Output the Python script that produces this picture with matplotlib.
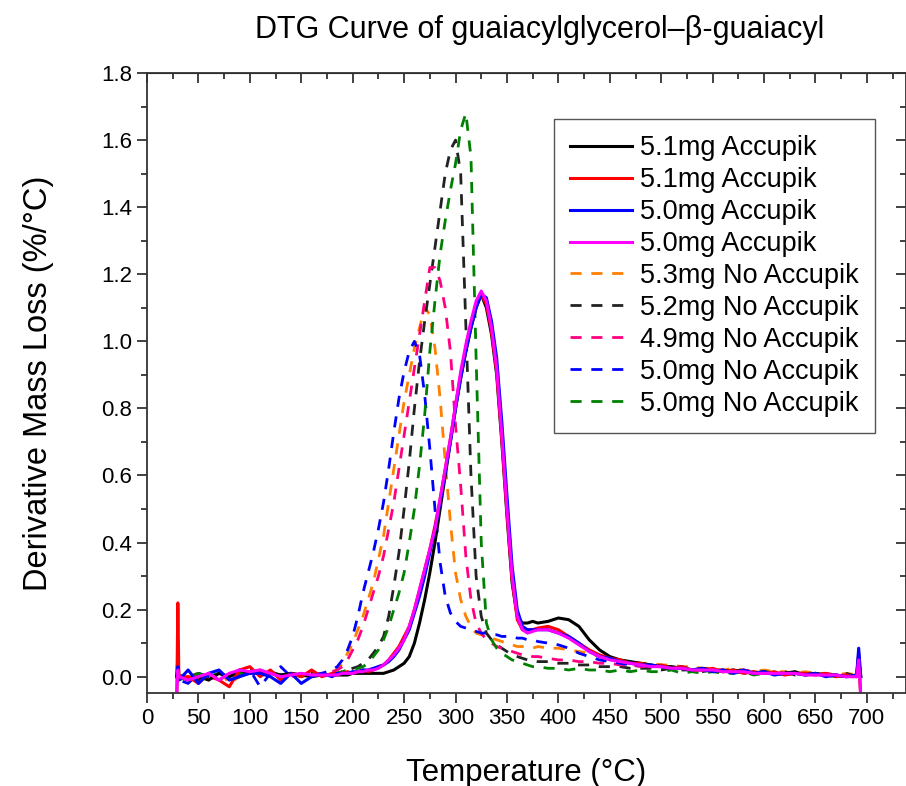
import numpy as np
import matplotlib
matplotlib.use("Agg")
import matplotlib.pyplot as plt
from matplotlib.ticker import MultipleLocator

plt.rcParams['font.family'] = ['Liberation Sans', 'DejaVu Sans']

# temperature grid (deg C) shared by all runs
temp = ([29, 30, 31] + list(range(40, 181, 10)) + list(range(185, 381, 5))
        + list(range(390, 691, 10)) + [692, 694])

# derivative mass loss (%/degC)
acc_51_a = [0.0, 0.06, 0.0,
            -0.01, 0.0, -0.01, 0.01, 0.0, 0.02, 0.01, 0.015, 0.01, 0.005, 0.01, 0.005, 0.0, 0.005, 0.005,
            0.005, 0.005, 0.005, 0.01, 0.01, 0.01, 0.01, 0.01, 0.01, 0.01,
            0.015, 0.02, 0.03, 0.04, 0.06, 0.1, 0.16, 0.23, 0.31, 0.4,
            0.5, 0.6, 0.7, 0.8, 0.89, 0.97, 1.04, 1.1, 1.14, 1.1,
            1.02, 0.9, 0.7, 0.48, 0.28, 0.18, 0.16, 0.16, 0.165, 0.16,
            0.165, 0.175, 0.17, 0.15, 0.11, 0.08, 0.06, 0.05, 0.045, 0.04,
            0.035, 0.03, 0.03, 0.025, 0.02, 0.025, 0.02, 0.015, 0.02, 0.015,
            0.01, 0.015, 0.01, 0.01, 0.015, 0.005, 0.01, 0.005, 0.005, 0.0, 0.005,
            0.06, 0.0]
acc_51_b = [-0.05, 0.22, 0.0,
            0.0, -0.02, 0.01, -0.01, -0.03, 0.02, 0.03, 0.0, 0.02, -0.01, 0.01, 0.0, 0.02, 0.0, 0.01,
            0.01, 0.01, 0.015, 0.01, 0.015, 0.02, 0.015, 0.02, 0.03, 0.035,
            0.05, 0.07, 0.09, 0.12, 0.15, 0.2, 0.26, 0.32, 0.38, 0.45,
            0.53, 0.62, 0.71, 0.81, 0.9, 0.98, 1.05, 1.11, 1.14, 1.11,
            1.03, 0.91, 0.71, 0.49, 0.29, 0.17, 0.14, 0.14, 0.14, 0.145,
            0.15, 0.14, 0.12, 0.1, 0.08, 0.065, 0.055, 0.05, 0.04, 0.04,
            0.03, 0.035, 0.025, 0.03, 0.02, 0.02, 0.025, 0.015, 0.02, 0.01,
            0.015, 0.01, 0.015, 0.005, 0.01, 0.01, 0.005, 0.01, 0.0, 0.005, 0.0,
            0.07, -0.06]
acc_50_a = [0.0, 0.03, -0.01,
            0.02, -0.02, 0.01, 0.02, -0.01, 0.0, 0.01, 0.01, 0.0, -0.02, 0.01, -0.02, 0.0, 0.01, 0.0,
            0.01, 0.01, 0.01, 0.015, 0.015, 0.02, 0.02, 0.025, 0.03, 0.035,
            0.045, 0.06, 0.08, 0.11, 0.14, 0.19, 0.24, 0.3, 0.37, 0.44,
            0.52, 0.61, 0.7, 0.8, 0.89, 0.97, 1.04, 1.1, 1.14, 1.13,
            1.06, 0.95, 0.76, 0.54, 0.33, 0.2, 0.15, 0.14, 0.14, 0.14,
            0.14, 0.13, 0.12, 0.1, 0.075, 0.06, 0.055, 0.045, 0.04, 0.035,
            0.035, 0.03, 0.025, 0.025, 0.02, 0.025, 0.015, 0.02, 0.01, 0.02,
            0.01, 0.015, 0.005, 0.01, 0.01, 0.005, 0.01, 0.0, 0.005, 0.0, 0.005,
            0.085, 0.0]
acc_50_b = [-0.05, 0.02, 0.0,
            -0.01, 0.0, 0.01, -0.01, 0.01, 0.02, 0.015, 0.02, 0.01, 0.0, 0.005, 0.01, 0.005, 0.005, 0.005,
            0.005, 0.01, 0.01, 0.01, 0.015, 0.015, 0.02, 0.02, 0.025, 0.035,
            0.05, 0.065, 0.085, 0.11, 0.15, 0.2, 0.26, 0.32, 0.38, 0.44,
            0.53, 0.62, 0.71, 0.81, 0.91, 0.99, 1.06, 1.12, 1.15, 1.12,
            1.04, 0.92, 0.72, 0.5, 0.3, 0.18, 0.14, 0.13, 0.135, 0.14,
            0.14, 0.13, 0.115, 0.095, 0.075, 0.06, 0.05, 0.045, 0.04, 0.035,
            0.03, 0.03, 0.025, 0.025, 0.02, 0.02, 0.02, 0.015, 0.015, 0.015,
            0.01, 0.01, 0.01, 0.01, 0.01, 0.005, 0.005, 0.005, 0.005, 0.0, 0.0,
            0.05, -0.06]
no_53 = [0.0, 0.02, 0.0,
         0.0, 0.01, -0.01, 0.02, -0.02, 0.0, 0.015, 0.02, 0.01, 0.0, 0.01, 0.0, 0.005, 0.01, 0.015,
         0.02, 0.04, 0.07, 0.1, 0.14, 0.18, 0.23, 0.28, 0.35, 0.42,
         0.52, 0.62, 0.72, 0.82, 0.9, 0.98, 1.04, 1.1, 1.08, 0.98,
         0.83, 0.64, 0.46, 0.31, 0.23, 0.18, 0.15, 0.13, 0.125, 0.12,
         0.115, 0.11, 0.105, 0.1, 0.095, 0.09, 0.09, 0.09, 0.085, 0.09,
         0.085, 0.085, 0.08, 0.075, 0.07, 0.06, 0.055, 0.05, 0.045, 0.04,
         0.04, 0.035, 0.035, 0.03, 0.03, 0.025, 0.025, 0.02, 0.025, 0.02,
         0.015, 0.02, 0.015, 0.015, 0.01, 0.015, 0.01, 0.01, 0.005, 0.01, 0.005,
         0.04, -0.06]
no_52 = [0.0, 0.01, 0.0,
         0.01, -0.01, 0.0, 0.01, 0.0, 0.01, 0.02, 0.01, 0.015, 0.005, 0.01, 0.005, 0.01, 0.005, 0.01,
         0.01, 0.015, 0.02, 0.025, 0.03, 0.04, 0.05, 0.07, 0.09, 0.12,
         0.18, 0.27, 0.37, 0.5, 0.64, 0.8, 0.94, 1.06, 1.17, 1.28,
         1.39, 1.5, 1.57, 1.6, 1.5, 1.05, 0.6, 0.3, 0.18, 0.13,
         0.11, 0.095, 0.085, 0.075, 0.065, 0.06, 0.055, 0.05, 0.05, 0.045,
         0.045, 0.04, 0.04, 0.035, 0.035, 0.03, 0.03, 0.03, 0.025, 0.025,
         0.025, 0.02, 0.025, 0.02, 0.02, 0.015, 0.02, 0.015, 0.015, 0.01,
         0.015, 0.01, 0.01, 0.015, 0.005, 0.01, 0.01, 0.005, 0.005, 0.01, 0.0,
         0.03, 0.0]
no_49 = [0.0, 0.01, 0.0,
         0.0, 0.01, 0.0, -0.01, 0.01, 0.015, 0.01, 0.02, 0.01, 0.005, 0.0, 0.01, 0.005, 0.01, 0.015,
         0.02, 0.03, 0.05, 0.08, 0.11, 0.15, 0.2, 0.25, 0.3, 0.36,
         0.44, 0.52, 0.62, 0.72, 0.82, 0.92, 1.02, 1.12, 1.22, 1.22,
         1.18, 1.1, 0.97, 0.75, 0.57, 0.36, 0.23, 0.16, 0.13, 0.11,
         0.1, 0.09, 0.085, 0.08, 0.075, 0.07, 0.065, 0.065, 0.06, 0.06,
         0.055, 0.05, 0.05, 0.045, 0.045, 0.04, 0.04, 0.035, 0.035, 0.03,
         0.03, 0.03, 0.025, 0.025, 0.025, 0.02, 0.02, 0.02, 0.015, 0.02,
         0.015, 0.01, 0.015, 0.01, 0.01, 0.01, 0.005, 0.01, 0.005, 0.005, 0.0,
         0.03, 0.0]
no_50_a = [0.0, 0.02, -0.01,
           -0.02, 0.01, 0.0, -0.01, 0.01, 0.0, 0.02, -0.03, 0.01, 0.03, 0.0, 0.01, 0.0, 0.01, 0.02,
           0.03, 0.05, 0.08, 0.12, 0.18, 0.25, 0.31, 0.37, 0.44, 0.52,
           0.62, 0.73, 0.83, 0.91, 0.97, 1.0, 0.96, 0.84, 0.68, 0.5,
           0.34, 0.24, 0.19, 0.165, 0.15, 0.145, 0.14, 0.135, 0.13, 0.13,
           0.125, 0.125, 0.12, 0.12, 0.12, 0.115, 0.115, 0.11, 0.11, 0.105,
           0.1, 0.095, 0.085, 0.07, 0.06, 0.05, 0.045, 0.04, 0.035, 0.035,
           0.03, 0.03, 0.025, 0.03, 0.02, 0.02, 0.015, 0.02, 0.01, 0.015,
           0.01, 0.015, 0.005, 0.01, 0.005, 0.01, 0.005, 0.005, 0.0, 0.005, 0.0,
           0.04, 0.0]
no_50_b = [0.0, 0.0, -0.01,
           0.0, 0.01, 0.0, 0.01, 0.0, 0.01, 0.02, 0.01, 0.01, 0.005, 0.01, 0.0, 0.01, 0.005, 0.01,
           0.01, 0.015, 0.02, 0.02, 0.025, 0.03, 0.04, 0.06, 0.08, 0.11,
           0.15, 0.2, 0.25, 0.31, 0.4, 0.5, 0.63, 0.78, 0.97, 1.12,
           1.26, 1.36, 1.45, 1.53, 1.63, 1.68, 1.55, 0.95, 0.4, 0.16,
           0.11, 0.085, 0.07, 0.06, 0.05, 0.045, 0.04, 0.035, 0.03, 0.03,
           0.025, 0.025, 0.02, 0.025, 0.02, 0.02, 0.015, 0.02, 0.015, 0.02,
           0.015, 0.015, 0.02, 0.01, 0.015, 0.01, 0.015, 0.01, 0.01, 0.015,
           0.005, 0.01, 0.01, 0.005, 0.01, 0.005, 0.01, 0.005, 0.0, 0.005, 0.0,
           0.05, 0.0]

labels = ['5.1mg Accupik', '5.1mg Accupik', '5.0mg Accupik', '5.0mg Accupik',
          '5.3mg No Accupik', '5.2mg No Accupik', '4.9mg No Accupik',
          '5.0mg No Accupik', '5.0mg No Accupik']
series = [acc_51_a, acc_51_b, acc_50_a, acc_50_b,
          no_53, no_52, no_49, no_50_a, no_50_b]
colors = ['#000000', '#FF0000', '#0000FF', '#FF00FF',
          '#FF8000', '#222222', '#FF0080', '#0000FF', '#008000']
styles = ['-', '-', '-', '-', '--', '--', '--', '--', '--']

fig = plt.figure(figsize=(9.06, 7.86), dpi=100)
ax = fig.add_axes([147 / 906, 93 / 786, 759 / 906, 620 / 786])

# dashed runs first, solid runs on top
order = [4, 5, 6, 7, 8, 0, 1, 2, 3]
handles = {}
for i in order:
    if styles[i] == '--':
        ln, = ax.plot(temp, series[i], color=colors[i], lw=2.0, dashes=(4, 3.5))
    else:
        ln, = ax.plot(temp, series[i], color=colors[i], lw=2.2)
    handles[i] = ln

ax.set_xlim(0, 738)
ax.set_ylim(-0.0486, 1.8)
ax.xaxis.set_major_locator(MultipleLocator(50))
ax.xaxis.set_minor_locator(MultipleLocator(25))
ax.yaxis.set_major_locator(MultipleLocator(0.2))
ax.yaxis.set_minor_locator(MultipleLocator(0.1))
ax.yaxis.set_major_formatter(matplotlib.ticker.FormatStrFormatter('%.1f'))
ax.tick_params(which='both', direction='out', width=1.3, color='#333333', labelsize=16)
ax.tick_params(which='major', length=7)
ax.tick_params(which='minor', length=4)
for sp in ax.spines.values():
    sp.set_linewidth(1.3)
    sp.set_color('#333333')

# top and right axes carry inward ticks
top = ax.secondary_xaxis('top')
top.xaxis.set_major_locator(MultipleLocator(50))
top.xaxis.set_minor_locator(MultipleLocator(25))
top.tick_params(which='both', direction='in', labeltop=False, width=1.3, color='#333333')
top.tick_params(which='major', length=7)
top.tick_params(which='minor', length=4)
right = ax.secondary_yaxis('right')
right.yaxis.set_major_locator(MultipleLocator(0.2))
right.yaxis.set_minor_locator(MultipleLocator(0.1))
right.tick_params(which='both', direction='in', labelright=False, width=1.3, color='#333333')
right.tick_params(which='major', length=7)
right.tick_params(which='minor', length=4)

ax.set_xlabel('Temperature (°C)', fontsize=22.5, labelpad=21)
ax.set_ylabel('Derivative Mass Loss (%/°C)', fontsize=23.5, labelpad=34)
fig.text(0.596, 0.962, 'DTG Curve of guaiacylglycerol–β-guaiacyl', fontsize=22,
         ha='center', va='center')

leg = ax.legend([handles[i] for i in range(9)], labels, loc='upper left',
                bbox_to_anchor=(0.536, 0.926), borderaxespad=0, fontsize=19.5,
                handlelength=2.3, handletextpad=0.27, labelspacing=0.22,
                borderpad=0.6, fancybox=False, framealpha=1, edgecolor='#555555')
leg.get_frame().set_linewidth(1.0)

fig.savefig('out.png', dpi=100)
